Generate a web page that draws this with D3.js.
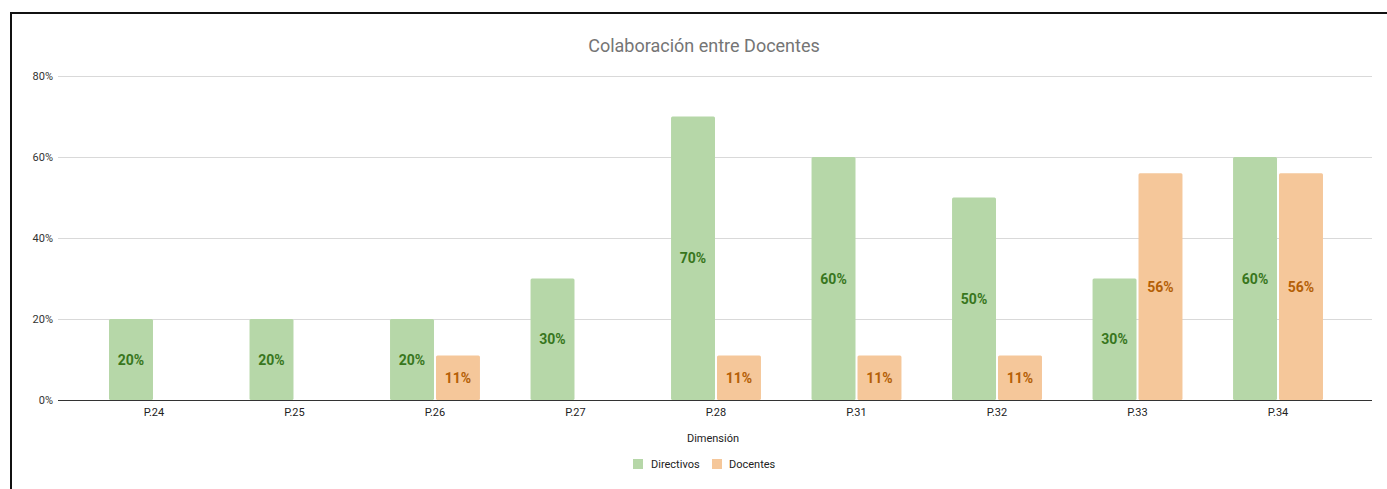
<!DOCTYPE html>
<html>
<head>
<meta charset="utf-8">
<script src="https://cdn.jsdelivr.net/npm/d3@7"></script>
<style>
  html, body { margin: 0; padding: 0; background: #fff; }
  svg { display: block; font-family: Roboto, Arial, sans-serif; }
</style>
</head>
<body>
<svg id="chart" width="1387" height="489"></svg>
<script>
// Data
const categories = ["P.24", "P.25", "P.26", "P.27", "P.28", "P.31", "P.32", "P.33", "P.34"];
const seriesNames = ["Directivos", "Docentes"];
const directivos = [20, 20, 20, 30, 70, 60, 50, 30, 60];
const docentes = [null, null, 11, null, 11, 11, 11, 56, 56];
const yTicks = [0, 20, 40, 60, 80];

const colors = { Directivos: "#b6d7a8", Docentes: "#f5c79a" };
const labelColors = { Directivos: "#38761d", Docentes: "#b45f06" };

const svg = d3.select("#chart");

// Outer frame
svg.append("rect")
  .attr("x", 11).attr("y", 13)
  .attr("width", 1420).attr("height", 520)
  .attr("fill", "none").attr("stroke", "#111").attr("stroke-width", 2);

const plot = { left: 58, right: 1372, top: 76, bottom: 400 };

const x = d3.scaleBand().domain(categories).range([plot.left + 1, plot.right + 1])
  .paddingInner(0.36).paddingOuter(0.356);
const xs = d3.scaleBand().domain(seriesNames).range([0, x.bandwidth()])
  .paddingInner(0.0435);
const y = d3.scaleLinear().domain([0, 80]).range([plot.bottom, plot.top]);

// Title
svg.append("text")
  .attr("x", 704).attr("y", 52)
  .attr("text-anchor", "middle")
  .attr("font-size", 18).attr("fill", "#757575")
  .text("Colaboración entre Docentes");

// Gridlines and y labels
const yAxis = svg.append("g");
yAxis.selectAll("line.grid").data(yTicks.filter(t => t > 0)).join("line")
  .attr("class", "grid")
  .attr("x1", plot.left).attr("x2", plot.right)
  .attr("y1", d => y(d) + 0.5).attr("y2", d => y(d) + 0.5)
  .attr("stroke", "#d9d9d9").attr("stroke-width", 1);
yAxis.selectAll("text").data(yTicks).join("text")
  .attr("x", 53).attr("y", d => y(d) + 4)
  .attr("text-anchor", "end")
  .attr("font-size", 11).attr("fill", "#333")
  .text(d => d + "%");

// Bars
const rows = [];
categories.forEach((c, i) => {
  rows.push({ cat: c, series: "Directivos", value: directivos[i] });
  if (docentes[i] != null) rows.push({ cat: c, series: "Docentes", value: docentes[i] });
});

const bars = svg.append("g");
bars.selectAll("rect").data(rows).join("rect")
  .attr("x", d => x(d.cat) + xs(d.series))
  .attr("y", d => y(d.value))
  .attr("width", xs.bandwidth())
  .attr("height", d => y(0) - y(d.value))
  .attr("rx", 1.5)
  .attr("fill", d => colors[d.series]);

bars.selectAll("text").data(rows).join("text")
  .attr("x", d => x(d.cat) + xs(d.series) + xs.bandwidth() / 2)
  .attr("y", d => (y(d.value) + y(0)) / 2 + 5)
  .attr("text-anchor", "middle")
  .attr("font-size", 14).attr("font-weight", "bold")
  .attr("fill", d => labelColors[d.series])
  .text(d => d.value + "%");

// Baseline
svg.append("line")
  .attr("x1", plot.left).attr("x2", plot.right)
  .attr("y1", plot.bottom + 0.5).attr("y2", plot.bottom + 0.5)
  .attr("stroke", "#333").attr("stroke-width", 1);

// X labels
svg.append("g").selectAll("text").data(categories).join("text")
  .attr("x", d => x(d) + x.bandwidth() / 2)
  .attr("y", 416)
  .attr("text-anchor", "middle")
  .attr("font-size", 11).attr("fill", "#222")
  .text(d => d);

// Axis title
svg.append("text")
  .attr("x", 713).attr("y", 442)
  .attr("text-anchor", "middle")
  .attr("font-size", 11).attr("fill", "#222")
  .text("Dimensión");

// Legend
const legendItems = [
  { name: "Directivos", sx: 633, tx: 651 },
  { name: "Docentes", sx: 712, tx: 729 }
];
const lg = svg.append("g");
lg.selectAll("rect").data(legendItems).join("rect")
  .attr("x", d => d.sx).attr("y", 459)
  .attr("width", 10).attr("height", 10)
  .attr("fill", d => colors[d.name]);
lg.selectAll("text").data(legendItems).join("text")
  .attr("x", d => d.tx).attr("y", 468)
  .attr("font-size", 11).attr("fill", "#222")
  .text(d => d.name);
</script>
</body>
</html>
